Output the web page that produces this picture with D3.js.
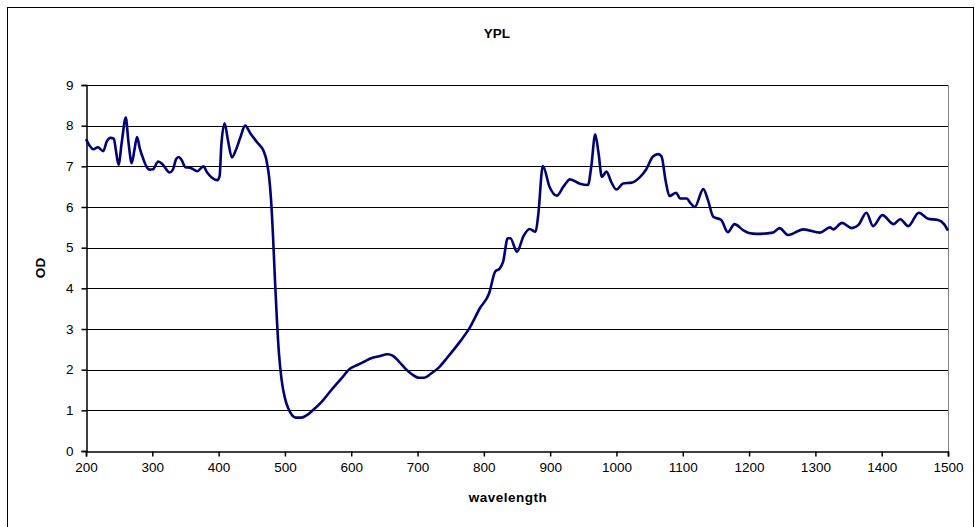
<!DOCTYPE html>
<html lang="en">
<head>
  <meta charset="UTF-8">
  <title>YPL</title>
  <script src="https://d3js.org/d3.v7.min.js"></script>
  <style>
    body { margin: 0; background: #fff; }
    text { font-family: "Liberation Sans", Arial, sans-serif; fill: #000; }
    .tick text { font-size: 13.5px; }
    .grid line { stroke: #000; stroke-width: 1px; }
  </style>
</head>
<body>
  <div id="chart"></div>
  <script>
    const width = 975, height = 527;

    // wavelength (nm) and optical density
    const wavelength = [200, 205, 211, 218, 226, 231, 237, 242, 245, 249, 254, 260, 264, 269, 273, 277, 281, 286, 291, 296,
      301, 309, 316, 326, 331, 336, 340, 344, 350, 358, 368, 377, 383, 390, 398, 401.5, 404, 409, 414, 420,
      426, 433, 440, 448, 458, 468, 472, 476, 479, 482, 485, 488, 491, 495, 500, 505, 510, 517, 525, 533,
      542, 555, 570, 585, 598, 610, 620, 630, 642, 655, 663, 672, 682, 692, 702, 710, 720, 732, 745, 764,
      779, 794, 808, 817, 824, 829, 836, 840, 850, 860, 869, 878, 882, 889, 899, 910, 920, 930, 945, 957,
      962, 968, 973, 978, 985, 992, 1000, 1010, 1023, 1035, 1045, 1055, 1063, 1068, 1074, 1080, 1090, 1096, 1106, 1111,
      1118, 1131, 1138, 1146, 1158, 1168, 1178, 1191, 1200, 1211, 1236, 1246, 1259, 1282, 1307, 1322, 1327, 1340, 1355, 1365,
      1377, 1387, 1401, 1418, 1428, 1440, 1456, 1470, 1485, 1494, 1500];
    const od = [7.67, 7.52, 7.42, 7.47, 7.37, 7.6, 7.7, 7.68, 7.4, 7.04, 7.6, 8.2, 7.6, 7.08, 7.4, 7.72, 7.45, 7.2, 7.0, 6.92,
      6.93, 7.12, 7.04, 6.85, 6.92, 7.18, 7.23, 7.16, 6.98, 6.96, 6.88, 7.0, 6.84, 6.72, 6.66, 6.76, 7.49, 8.06, 7.65, 7.22,
      7.4, 7.72, 8.0, 7.81, 7.59, 7.37, 7.16, 6.76, 6.2, 5.3, 4.2, 3.2, 2.4, 1.75, 1.3, 1.05, 0.9, 0.82, 0.82, 0.88,
      1.0, 1.2, 1.5, 1.78, 2.02, 2.12, 2.2, 2.28, 2.33, 2.38, 2.34, 2.2, 2.02, 1.88, 1.8, 1.8, 1.9, 2.05, 2.3, 2.69,
      3.04, 3.51, 3.88, 4.41, 4.49, 4.65, 5.23, 5.23, 4.9, 5.29, 5.46, 5.39, 5.8, 7.01, 6.5, 6.28, 6.5, 6.68, 6.57, 6.54,
      6.99, 7.79, 7.32, 6.74, 6.87, 6.62, 6.43, 6.58, 6.6, 6.73, 6.93, 7.24, 7.3, 7.24, 6.66, 6.27, 6.35, 6.21, 6.21, 6.11,
      6.0, 6.44, 6.17, 5.76, 5.68, 5.38, 5.58, 5.43, 5.36, 5.34, 5.37, 5.48, 5.31, 5.45, 5.37, 5.5, 5.45, 5.61, 5.48, 5.56,
      5.86, 5.53, 5.8, 5.58, 5.7, 5.53, 5.86, 5.71, 5.68, 5.58, 5.42];

    const xTicks = [200, 300, 400, 500, 600, 700, 800, 900, 1000, 1100, 1200, 1300, 1400, 1500];
    const yTicks = [0, 1, 2, 3, 4, 5, 6, 7, 8, 9];

    const data = wavelength.map((w, i) => ({ w: w, v: od[i] }));

    const plot = { left: 86, right: 948, top: 85, bottom: 451 };

    const svg = d3.select("#chart").append("svg")
      .attr("width", width)
      .attr("height", height);

    // outer chart border
    svg.append("rect")
      .attr("x", 7.5).attr("y", 7.5)
      .attr("width", 966).attr("height", 525)
      .attr("fill", "none")
      .attr("stroke", "#000")
      .attr("stroke-width", 1);

    const x = d3.scaleLinear().domain([200, 1500]).range([plot.left, plot.right]);
    const y = d3.scaleLinear().domain([0, 9]).range([plot.bottom, plot.top]);

    // horizontal gridlines
    svg.append("g")
      .attr("class", "grid")
      .selectAll("line")
      .data(yTicks.filter(d => d > 0))
      .enter().append("line")
      .attr("x1", plot.left)
      .attr("x2", plot.right)
      .attr("y1", d => Math.round(y(d)) + 0.5)
      .attr("y2", d => Math.round(y(d)) + 0.5)
      .attr("stroke", d => d === 9 ? "#808080" : "#000");

    // plot area right edge
    svg.append("line")
      .attr("x1", plot.right + 0.5).attr("x2", plot.right + 0.5)
      .attr("y1", plot.top).attr("y2", plot.bottom)
      .attr("stroke", "#808080");

    const xAxis = svg.append("g")
      .attr("transform", `translate(0,${plot.bottom + 0.5})`)
      .call(d3.axisBottom(x).tickValues(xTicks).tickSize(5).tickPadding(6).tickFormat(d3.format("d")));

    const yAxis = svg.append("g")
      .attr("transform", `translate(${plot.left + 0.5},0)`)
      .call(d3.axisLeft(y).tickValues(yTicks).tickSize(5).tickPadding(8).tickFormat(d3.format("d")));

    [xAxis, yAxis].forEach(a => {
      a.select(".domain").attr("stroke", "#000").attr("stroke-width", 1.5);
      a.selectAll(".tick line").attr("stroke", "#000").attr("stroke-width", 1.5);
      a.selectAll(".tick text").attr("fill", "#000").style("font-family", "'Liberation Sans', Arial, sans-serif");
    });

    const line = d3.line()
      .x(d => x(d.w))
      .y(d => y(d.v))
      .curve(d3.curveMonotoneX);

    svg.append("path")
      .datum(data)
      .attr("fill", "none")
      .attr("stroke", "#000080")
      .attr("stroke-width", 2.6)
      .attr("stroke-linejoin", "round")
      .attr("d", line);

    svg.append("text")
      .attr("x", 497).attr("y", 38)
      .attr("text-anchor", "middle")
      .style("font-size", "13.5px")
      .style("font-weight", "bold")
      .text("YPL");

    svg.append("text")
      .attr("x", 508).attr("y", 502)
      .attr("text-anchor", "middle")
      .style("font-size", "13.5px")
      .style("font-weight", "bold")
      .style("letter-spacing", "0.5px")
      .text("wavelength");

    svg.append("text")
      .attr("transform", "translate(45,268) rotate(-90)")
      .attr("text-anchor", "middle")
      .style("font-size", "13.5px")
      .style("font-weight", "bold")
      .text("OD");
  </script>
</body>
</html>
